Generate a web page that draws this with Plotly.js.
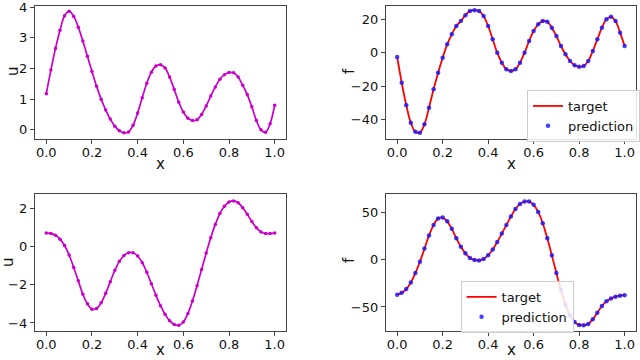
<!DOCTYPE html>
<html>
<head>
<meta charset="utf-8">
<script src="https://cdn.plot.ly/plotly-3.0.1.min.js"></script>
<style>
  html, body { margin: 0; padding: 0; background: #fff; }
  #myDiv { width: 640px; height: 360px; }
</style>
</head>
<body>
<div id="myDiv"></div>
<script>
// x grid shared by all four panels
xs = [0.00, 0.02, 0.04, 0.06, 0.08, 0.10, 0.12, 0.14, 0.16, 0.18,
      0.20, 0.22, 0.24, 0.26, 0.28, 0.30, 0.32, 0.34, 0.36, 0.38,
      0.40, 0.42, 0.44, 0.46, 0.48, 0.50, 0.52, 0.54, 0.56, 0.58,
      0.60, 0.62, 0.64, 0.66, 0.68, 0.70, 0.72, 0.74, 0.76, 0.78,
      0.80, 0.82, 0.84, 0.86, 0.88, 0.90, 0.92, 0.94, 0.96, 0.98, 1.00];

// top row
uTop = [1.18, 1.95, 2.65, 3.25, 3.72, 3.87, 3.70, 3.35, 2.90, 2.40,
        1.90, 1.42, 1.00, 0.65, 0.35, 0.12, -0.03, -0.10, -0.07, 0.15,
        0.55, 1.05, 1.52, 1.88, 2.08, 2.12, 2.02, 1.72, 1.32, 0.90,
        0.58, 0.38, 0.30, 0.33, 0.50, 0.78, 1.10, 1.40, 1.65, 1.80,
        1.87, 1.86, 1.72, 1.45, 1.15, 0.75, 0.30, 0.00, -0.08, 0.20, 0.80];
fTop = [-2.6, -18, -31.5, -42, -47.5, -48, -43, -33, -22, -12,
        -3, 5, 11, 16, 19, 22.5, 25, 25.5, 25, 22,
        16, 8, 0, -6, -10, -11, -10, -6, 0, 7,
        13, 17, 19, 18.5, 15, 10, 4, -1, -5, -7.5,
        -8.5, -8, -5, 1, 8, 15, 20, 21.5, 19, 12, 4];

// bottom row
uBot = [0.70, 0.68, 0.58, 0.38, 0.05, -0.45, -1.10, -1.80, -2.50, -3.00,
        -3.28, -3.25, -2.95, -2.45, -1.85, -1.25, -0.78, -0.48, -0.33, -0.33,
        -0.50, -0.85, -1.35, -1.95, -2.55, -3.10, -3.55, -3.88, -4.08, -4.12,
        -3.95, -3.50, -2.85, -2.05, -1.20, -0.35, 0.45, 1.15, 1.72, 2.10,
        2.32, 2.38, 2.28, 2.02, 1.68, 1.30, 0.98, 0.76, 0.67, 0.68, 0.70];
fBot = [-37, -35, -31, -24, -14, -2, 12, 26, 37, 44,
        45, 41, 33, 23, 14, 7, 2, 0, -0.5, 1,
        5, 11, 19, 28, 37, 46, 54, 59.5, 62, 62,
        58.5, 51, 39, 23, 5, -14, -32, -48, -59, -66,
        -69, -69.5, -68, -63, -56, -49, -44, -41, -39, -38, -37.5];

xTicks = [0, 0.2, 0.4, 0.6, 0.8, 1.0];

var font = { family: 'DejaVu Sans', size: 13, color: '#111' };
var titleFont = { family: 'DejaVu Sans', size: 15, color: '#111' };
var magenta = 'rgb(200,0,200)';

function uTrace(y, xa, ya) {
    return {
        x: xs, y: y, xaxis: xa, yaxis: ya,
        mode: 'lines+markers', type: 'scatter', line: { color: magenta, width: 1.7, shape: 'spline' },
        marker: { color: magenta, size: 3.5 }, showlegend: false
    };
}

function fTraces(y, xa, ya, leg) {
    var target = {
        x: xs, y: y, xaxis: xa, yaxis: ya, name: 'target', legend: leg,
        mode: 'lines', type: 'scatter', line: { color: 'red', width: 1.8, shape: 'spline' }
    };
    var pred = {
        x: xs, y: y, xaxis: xa, yaxis: ya, name: 'prediction', legend: leg,
        mode: 'markers', type: 'scatter', marker: { color: 'rgba(20,20,255,0.8)', size: 4.5 }
    };
    return [target, pred];
}

var data = [uTrace(uTop, 'x', 'y')]
    .concat(fTraces(fTop, 'x2', 'y2', 'legend'))
    .concat([uTrace(uBot, 'x3', 'y3')])
    .concat(fTraces(fBot, 'x4', 'y4', 'legend2'));

function xAxis(dom, anchor) {
    return {
        domain: dom, anchor: anchor, range: [-0.05, 1.05], tickvals: xTicks, tickformat: '.1f',
        showgrid: false, zeroline: false, showline: true, mirror: true, linecolor: '#444', linewidth: 1,
        ticks: 'outside', ticklen: 4, tickcolor: '#444', tickfont: font, ticklabeloverflow: 'allow',
        ticklabelstandoff: -3
    };
}

function yAxis(dom, anchor, range, dtick) {
    return {
        domain: dom, anchor: anchor, range: range, dtick: dtick,
        showgrid: false, zeroline: false, showline: true, mirror: true, linecolor: '#444', linewidth: 1,
        ticks: 'outside', ticklen: 4, tickcolor: '#444', tickfont: font, ticklabeloverflow: 'allow'
    };
}

// axis titles as paper annotations so they sit where the reference has them
function label(text, px, py, rot) {
    return {
        text: text, xref: 'paper', yref: 'paper', x: px / 640, y: 1 - py / 360,
        xanchor: 'center', yanchor: 'middle', showarrow: false, font: titleFont, textangle: rot
    };
}

var colL = [35 / 640, 287 / 640];
var colR = [387 / 640, 638 / 640];
var rowT = [1 - 139 / 360, 1 - 6 / 360];
var rowB = [1 - 331 / 360, 1 - 194 / 360];

var legendStyle = {
    font: font, bgcolor: 'rgba(255,255,255,0.85)', bordercolor: '#ccc', borderwidth: 1,
    xanchor: 'left', yanchor: 'top', tracegroupgap: 0, itemwidth: 30
};

var layout = {
    width: 640, height: 360,
    margin: { l: 0, r: 0, t: 0, b: 0 },
    paper_bgcolor: 'white', plot_bgcolor: 'white',
    font: font,
    xaxis: xAxis(colL, 'y'),
    yaxis: yAxis(rowT, 'x', [-0.3, 4.04], 1),
    xaxis2: xAxis(colR, 'y2'),
    yaxis2: yAxis(rowT, 'x2', [-51.8, 28], 20),
    xaxis3: xAxis(colL, 'y3'),
    yaxis3: yAxis(rowB, 'x3', [-4.42, 2.74], 2),
    xaxis4: xAxis(colR, 'y4'),
    yaxis4: yAxis(rowB, 'x4', [-75.5, 70], 50),
    legend: Object.assign({ x: 529 / 640, y: 1 - 90 / 360 }, legendStyle),
    legend2: Object.assign({ x: 462 / 640, y: 1 - 281 / 360 }, legendStyle),
    annotations: [
        label('x', 161, 164, 0), label('u', 13, 71, -90),
        label('x', 513, 164, 0), label('f', 350, 71, -90),
        label('x', 161, 350, 0), label('u', 8, 262, -90),
        label('x', 513, 350, 0), label('f', 350, 260, -90)
    ]
};

Plotly.newPlot('myDiv', data, layout, { staticPlot: true });
</script>
</body>
</html>
